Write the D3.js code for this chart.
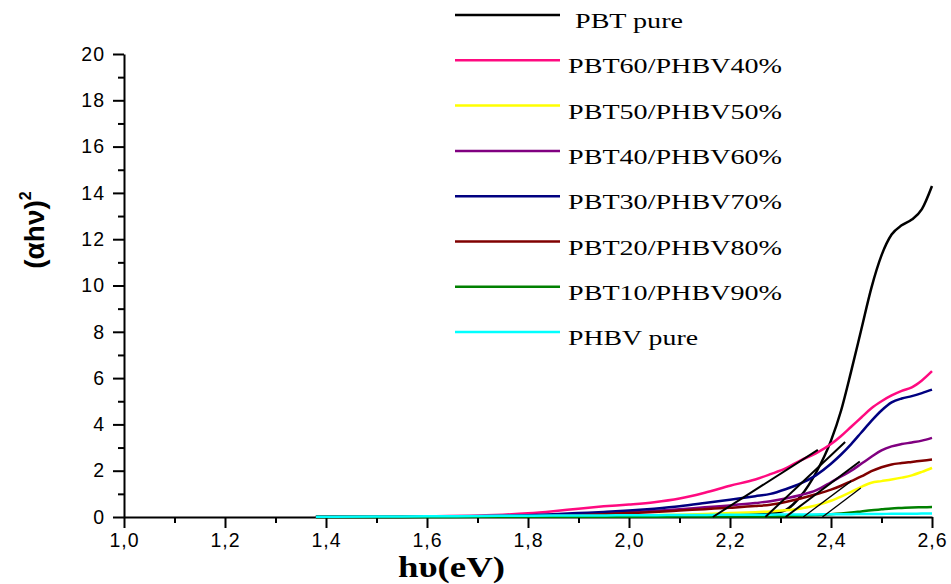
<!DOCTYPE html>
<html>
<head>
<meta charset="utf-8">
<script src="https://cdn.jsdelivr.net/npm/d3@7"></script>
<style>
  html, body { margin: 0; padding: 0; background: #fff; }
  svg { display: block; }
</style>
</head>
<body>
<svg id="chart" width="951" height="584"></svg>
<script>
// ---------------- DATA ----------------
const energy = [1.38, 1.5, 1.6, 1.7, 1.75, 1.8, 1.85, 1.9, 1.95, 2.0, 2.05, 2.1, 2.15, 2.2, 2.25, 2.28, 2.31, 2.34, 2.37, 2.4, 2.42, 2.44, 2.46, 2.48, 2.5, 2.52, 2.54, 2.56, 2.58, 2.6];

const seriesNames = ["PBT pure", "PBT60/PHBV40%", "PBT50/PHBV50%", "PBT40/PHBV60%", "PBT30/PHBV70%", "PBT20/PHBV80%", "PBT10/PHBV90%", "PHBV pure"];
const seriesColors = ["#000000", "#ff0a80", "#ffff00", "#800080", "#000080", "#800000", "#008000", "#00ffff"];

const pbtPure   = [0, 0, 0.01, 0.01, 0.02, 0.02, 0.03, 0.03, 0.04, 0.05, 0.06, 0.07, 0.08, 0.1, 0.12, 0.15, 0.3, 0.9, 1.9, 3.3, 4.6, 6.3, 8.1, 9.9, 11.3, 12.2, 12.6, 12.85, 13.3, 14.3];
const pbt60     = [0.02, 0.02, 0.03, 0.06, 0.1, 0.16, 0.25, 0.36, 0.46, 0.54, 0.64, 0.8, 1.05, 1.35, 1.62, 1.85, 2.1, 2.45, 2.75, 3.15, 3.5, 3.9, 4.3, 4.7, 5.0, 5.25, 5.45, 5.6, 5.9, 6.3];
const pbt50     = [0.02, 0.02, 0.02, 0.03, 0.03, 0.03, 0.04, 0.05, 0.06, 0.07, 0.08, 0.1, 0.13, 0.17, 0.21, 0.24, 0.29, 0.37, 0.5, 0.7, 0.88, 1.08, 1.3, 1.48, 1.55, 1.62, 1.7, 1.8, 1.95, 2.12];
const pbt40     = [0.01, 0.01, 0.02, 0.02, 0.03, 0.05, 0.07, 0.1, 0.15, 0.2, 0.26, 0.33, 0.42, 0.5, 0.6, 0.68, 0.8, 0.95, 1.15, 1.5, 1.75, 2.0, 2.3, 2.6, 2.88, 3.05, 3.15, 3.22, 3.3, 3.42];
const pbt30     = [0.01, 0.01, 0.02, 0.03, 0.05, 0.08, 0.12, 0.17, 0.22, 0.28, 0.36, 0.46, 0.6, 0.75, 0.9, 1.0, 1.2, 1.45, 1.8, 2.3, 2.7, 3.15, 3.65, 4.15, 4.6, 4.95, 5.12, 5.22, 5.35, 5.5];
const pbt20     = [0.01, 0.01, 0.01, 0.02, 0.02, 0.03, 0.05, 0.08, 0.12, 0.17, 0.22, 0.28, 0.34, 0.4, 0.47, 0.53, 0.65, 0.8, 0.98, 1.18, 1.35, 1.55, 1.75, 1.98, 2.15, 2.27, 2.33, 2.38, 2.43, 2.48];
const pbt10     = [0, 0, 0, 0.01, 0.01, 0.01, 0.01, 0.01, 0.01, 0.01, 0.01, 0.02, 0.02, 0.02, 0.02, 0.03, 0.04, 0.06, 0.09, 0.12, 0.15, 0.19, 0.24, 0.29, 0.33, 0.37, 0.39, 0.41, 0.42, 0.43];
const phbvPure  = [0.01, 0.02, 0.03, 0.04, 0.05, 0.05, 0.06, 0.07, 0.07, 0.08, 0.08, 0.09, 0.09, 0.1, 0.1, 0.1, 0.11, 0.11, 0.11, 0.12, 0.12, 0.12, 0.13, 0.13, 0.13, 0.14, 0.14, 0.14, 0.15, 0.15];

const seriesValues = [pbtPure, pbt60, pbt50, pbt40, pbt30, pbt20, pbt10, phbvPure];

// tangent (extrapolation) lines: x-intercept -> end point
const tangentX0 = [2.166, 2.27, 2.31, 2.345, 2.383];
const tangentX1 = [2.374, 2.428, 2.457, 2.44, 2.459];
const tangentY1 = [2.9, 3.24, 2.4, 1.55, 1.25];

const xMajorTicks = [1.0, 1.2, 1.4, 1.6, 1.8, 2.0, 2.2, 2.4, 2.6];
const xMinorTicks = [1.1, 1.3, 1.5, 1.7, 1.9, 2.1, 2.3, 2.5];
const yMajorTicks = [0, 2, 4, 6, 8, 10, 12, 14, 16, 18, 20];
const yMinorTicks = [1, 3, 5, 7, 9, 11, 13, 15, 17, 19];

// ---------------- CHART ----------------
const svg = d3.select("#chart");
const x = d3.scaleLinear().domain([1.0, 2.6]).range([124, 932]);
const y = d3.scaleLinear().domain([0, 20]).range([517, 54]);

const fmt = d => d3.format(".1f")(d).replace(".", ",");

// minor ticks
svg.append("g").attr("transform", `translate(0,${y(0)})`)
  .call(d3.axisBottom(x).tickValues(xMinorTicks).tickSize(6).tickFormat(""))
  .call(g => g.select(".domain").remove());
svg.append("g").attr("transform", `translate(${x(1.0)},0)`)
  .call(d3.axisLeft(y).tickValues(yMinorTicks).tickSize(6).tickFormat(""))
  .call(g => g.select(".domain").remove());

// major axes
const xAxis = svg.append("g").attr("transform", `translate(0,${y(0)})`)
  .call(d3.axisBottom(x).tickValues(xMajorTicks).tickSize(11).tickSizeOuter(0).tickPadding(5).tickFormat(fmt));
const yAxis = svg.append("g").attr("transform", `translate(${x(1.0)},0)`)
  .call(d3.axisLeft(y).tickValues(yMajorTicks).tickSize(11).tickSizeOuter(0).tickPadding(8).tickFormat(d3.format("d")));

svg.selectAll(".tick line, .domain").attr("stroke", "#000").attr("stroke-width", 2);
[xAxis, yAxis].forEach(a => a.selectAll("text")
  .attr("font-family", "'Liberation Sans', Arial, sans-serif")
  .attr("font-size", 19.5)
  .attr("letter-spacing", 1)
  .attr("fill", "#000"));

// curves
const line = d3.line()
  .x((d, i) => x(energy[i]))
  .y(d => y(d))
  .curve(d3.curveMonotoneX);

const curves = svg.append("g");
seriesValues.forEach((vals, k) => {
  curves.append("path")
    .attr("d", line(vals))
    .attr("fill", "none")
    .attr("stroke", seriesColors[k])
    .attr("stroke-width", 2.5)
    .attr("stroke-linejoin", "round");
});

// tangent lines
const tang = svg.append("g");
tangentX0.forEach((x0, i) => {
  tang.append("line")
    .attr("x1", x(x0)).attr("y1", y(0))
    .attr("x2", x(tangentX1[i])).attr("y2", y(tangentY1[i]))
    .attr("stroke", "#000")
    .attr("stroke-width", i < 3 ? 2 : 1.3);
});

// legend
const legend = svg.append("g");
const legendWidths = [108, 214, 214, 214, 214, 214, 214, 130];
seriesNames.forEach((name, i) => {
  const ly = 15 + i * 45.3;
  legend.append("line")
    .attr("x1", 455).attr("x2", 560)
    .attr("y1", ly).attr("y2", ly)
    .attr("stroke", seriesColors[i])
    .attr("stroke-width", 2.5);
  legend.append("text")
    .attr("x", i === 0 ? 575 : 568)
    .attr("y", ly + 13)
    .attr("font-family", "'Liberation Serif', 'Times New Roman', serif")
    .attr("font-size", 20)
    .attr("textLength", legendWidths[i])
    .attr("lengthAdjust", "spacingAndGlyphs")
    .attr("fill", "#000")
    .text(name);
});

// axis titles
svg.append("text")
  .attr("x", 398).attr("y", 577)
  .attr("font-family", "'Liberation Serif', 'Times New Roman', serif")
  .attr("font-weight", "bold")
  .attr("font-size", 30)
  .attr("textLength", 107)
  .attr("lengthAdjust", "spacingAndGlyphs")
  .attr("fill", "#000")
  .text("hυ(eV)");

const yt = svg.append("text")
  .attr("transform", "translate(44,230) rotate(-90)")
  .attr("text-anchor", "middle")
  .attr("font-family", "'Liberation Sans', Arial, sans-serif")
  .attr("font-weight", "bold")
  .attr("font-size", 28)
  .attr("fill", "#000");
yt.append("tspan").text("(αhν)");
yt.append("tspan").attr("dy", -13).attr("font-size", 16).text("2");
</script>
</body>
</html>
